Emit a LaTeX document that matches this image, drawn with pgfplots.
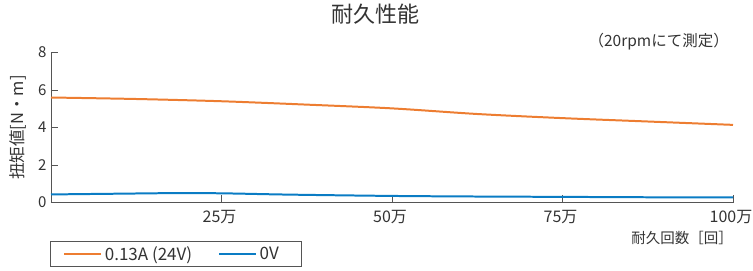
\documentclass[border=0pt]{standalone}
\usepackage{fontspec}
\setmainfont{Noto Sans CJK JP}
\usepackage{pgfplots}
\pgfplotsset{compat=1.18}
\definecolor{corange}{HTML}{ED7D31}
\definecolor{cblue}{HTML}{0A7CC4}
\definecolor{axgray}{HTML}{555555}
\definecolor{txt}{HTML}{333333}
\begin{document}
\begin{tikzpicture}
\useasboundingbox (0,0) rectangle (753bp,271bp);
\begin{axis}[
  at={(51bp,68.5bp)}, anchor=south west,
  scale only axis, width=682bp, height=150bp,
  xmin=0, xmax=100, ymin=0, ymax=8,
  axis x line*=bottom, axis y line*=left,
  axis line style={-, axgray, line width=1pt},
  tick style={axgray, line width=0.9pt},
  tick align=inside, xtick pos=bottom, ytick pos=left, major tick length=7bp,
  xtick={25,50,75,100}, xticklabels={25万,50万,75万,100万},
  ytick={0,2,4,6,8},
  /pgf/number format/assume math mode=true,
  ticklabel style={text=txt},
  yticklabel style={font=\fontsize{15bp}{17bp}\selectfont, xshift=-1bp},
  xticklabel style={font=\fontsize{16bp}{18bp}\selectfont, yshift=-4bp, xshift=-2bp},
  title={耐久性能},
  title style={at={(axis description cs:0.4765,1.217)}, anchor=center, font=\fontsize{22bp}{25bp}\selectfont, text=txt},
  xlabel={耐久回数［回］},
  xlabel style={at={(axis description cs:1.0,-0.237)}, anchor=east, inner sep=0pt, font=\fontsize{14.5bp}{17bp}\selectfont, text=txt},
  ylabel={扭矩値[N・m]},
  ylabel style={at={(axis description cs:-0.0484,0.5)}, anchor=center, font=\fontsize{16.5bp}{18bp}\selectfont, text=txt},
  legend columns=2,
  legend style={at={(axis description cs:-0.0015,-0.257)}, anchor=north west,
    draw=axgray, line width=0.8pt, font=\fontsize{17bp}{19bp}\selectfont, text=txt,
    inner xsep=13bp, inner ysep=3bp,
    /tikz/every odd column/.append style={column sep=0.5bp},
    /tikz/every even column/.append style={column sep=24bp}},
  legend image code/.code={\draw[#1, line width=2pt] (0bp,0bp) -- (37bp,0bp);},
  clip=false,
]
\addplot[corange, line width=2pt, smooth] coordinates {
(0,5.6) (12.5,5.52) (25,5.4) (37.5,5.22) (50,5.02) (62.5,4.72) (75,4.5) (87.5,4.32) (100,4.14)};
\addlegendentry{0.13A (24V)}
\addplot[cblue, line width=2pt, smooth] coordinates {
(0,0.43) (10,0.47) (18,0.5) (25,0.49) (35,0.42) (50,0.35) (62,0.32) (75,0.3) (87,0.28) (100,0.27)};
\addlegendentry{0V\kern8bp}
\node[font=\fontsize{15.5bp}{17bp}\selectfont, text=txt, anchor=center] at (axis description cs:0.891,1.07) {（20rpmにて測定）};
\end{axis}
\end{tikzpicture}
\end{document}
